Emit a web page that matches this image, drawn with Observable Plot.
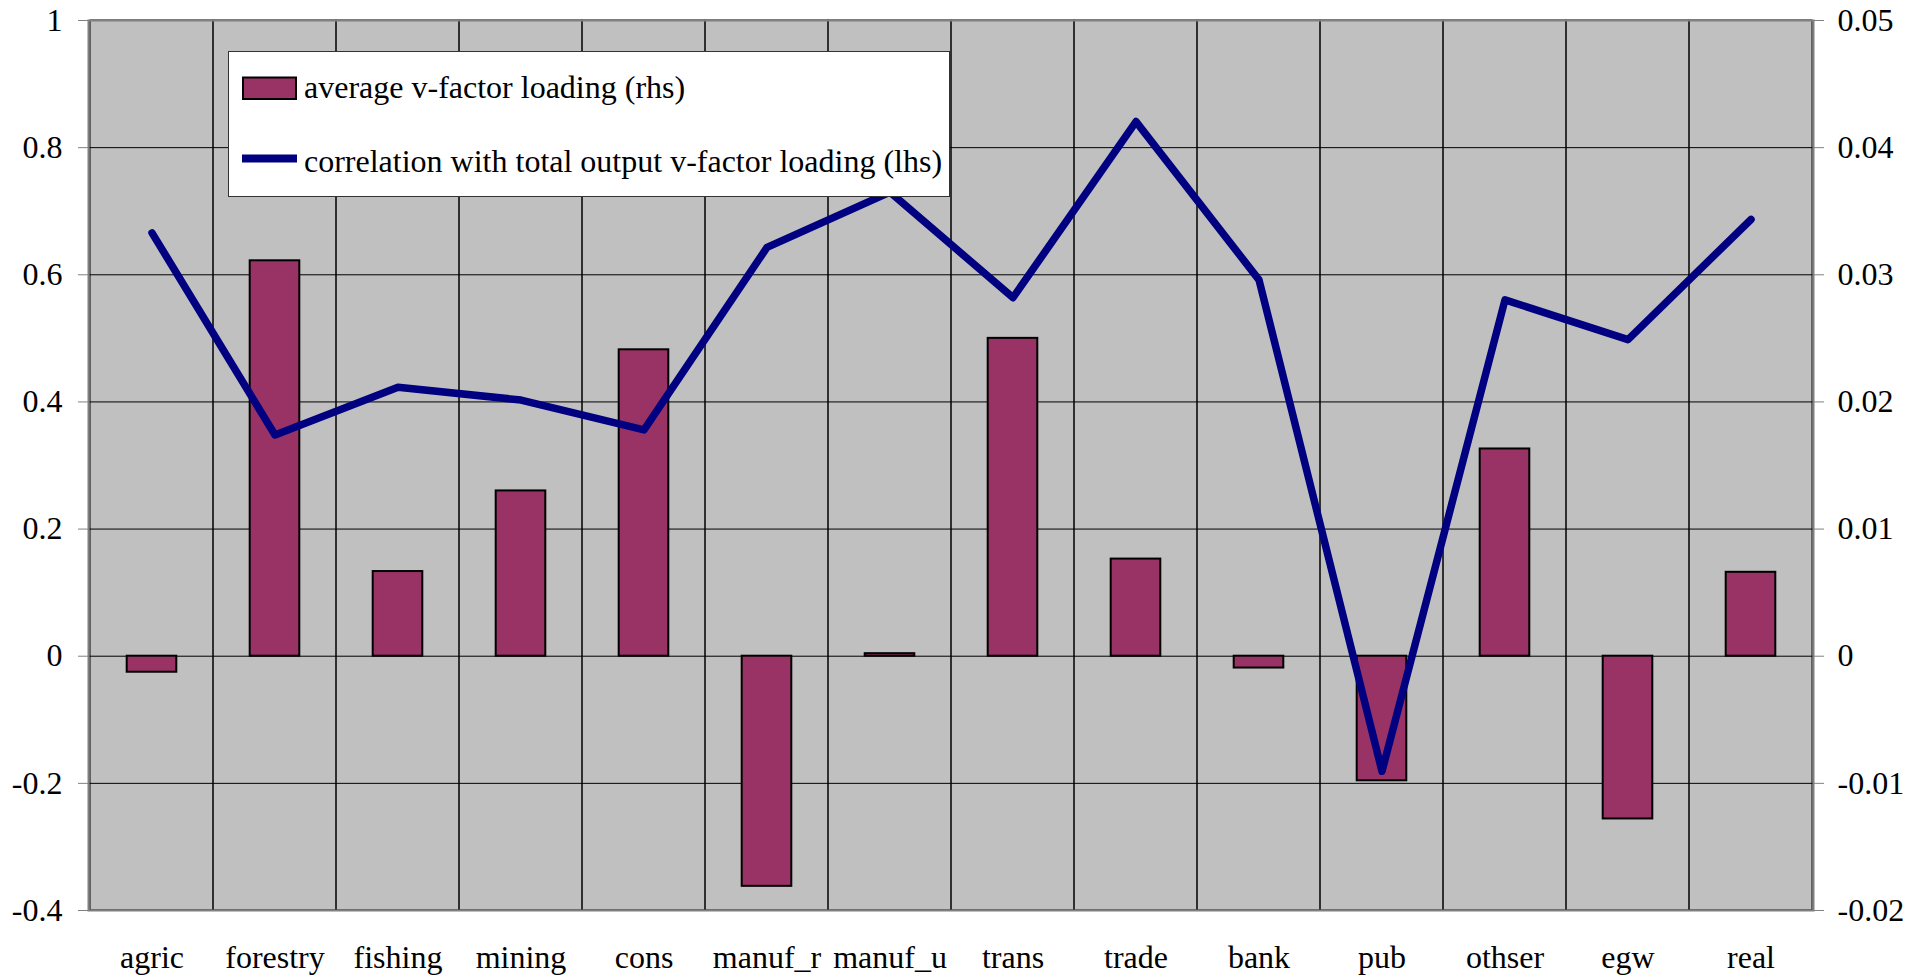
<!DOCTYPE html>
<html>
<head>
<meta charset="utf-8">
<script src="https://cdn.jsdelivr.net/npm/d3@7"></script>
<script src="https://cdn.jsdelivr.net/npm/@observablehq/plot@0.6"></script>
<style>
  html, body { margin: 0; padding: 0; background: white; }
  #chart { position: relative; width: 1924px; height: 977px; }
  #chart svg, #chart svg text { font-family: "Liberation Serif", "Times New Roman", serif !important; }
</style>
</head>
<body>
<div id="chart"></div>
<script>
const categories = ["agric","forestry","fishing","mining","cons","manuf_r","manuf_u","trans","trade","bank","pub","othser","egw","real"];
// average v-factor loading (rhs)
const avgLoading = [-0.00126, 0.0311, 0.00666, 0.0130, 0.0241, -0.0181, 0.0002, 0.0250, 0.00764, -0.00093, -0.0098, 0.0163, -0.0128, 0.0066];
// correlation with total output v-factor loading (lhs)
const correlation = [0.666, 0.348, 0.423, 0.403, 0.356, 0.643, 0.73, 0.564, 0.841, 0.592, -0.181, 0.5605, 0.498, 0.687];
const leftTicks = [-0.4, -0.2, 0, 0.2, 0.4, 0.6, 0.8, 1];
const rhsFactor = 20; // lhs range 1.4 <-> rhs range 0.07
const legendLabels = ["average v-factor loading (rhs)", "correlation with total output v-factor loading (lhs)"];

const data = categories.map((c, i) => ({cat: c, bar: avgLoading[i], corr: correlation[i]}));

const chart = Plot.plot({
  width: 1924,
  height: 977,
  marginLeft: 88,
  marginRight: 111,
  marginTop: 20,
  marginBottom: 67,
  style: {fontFamily: "'Liberation Serif', 'Times New Roman', serif", fontSize: "32px", background: "white", color: "black"},
  x: {type: "band", domain: categories, padding: 0, label: null},
  y: {domain: [-0.4, 1], label: null},
  marks: [
    Plot.frame({fill: "#c0c0c0"}),
    Plot.barY(categories, {x: d => d, y1: () => -0.4, y2: () => 1, fill: "none", stroke: "black", strokeWidth: 1}),
    Plot.ruleY(leftTicks, {stroke: "black", strokeWidth: 1}),
    Plot.barY(data, {x: "cat", y: d => d.bar * rhsFactor, fill: "#993366", stroke: "black", strokeWidth: 2, insetLeft: 36.7, insetRight: 36.7}),
    Plot.lineY(data, {x: "cat", y: "corr", stroke: "#000080", strokeWidth: 7.5}),
    Plot.frame({stroke: "#808080", strokeWidth: 2}),
    Plot.axisY(leftTicks, {anchor: "left", tickSize: 10, tickPadding: 16, stroke: "#808080", fill: "black", label: null, tickFormat: d => String(+d.toFixed(1))}),
    Plot.axisY(leftTicks, {anchor: "right", tickSize: 10, tickPadding: 14, stroke: "#808080", fill: "black", label: null, tickFormat: d => String(+(d / rhsFactor).toFixed(2))}),
    Plot.axisX({tickSize: 0, tickPadding: 35, label: null, fill: "black"})
  ]
});

document.getElementById("chart").appendChild(chart);

// Legend box inside the plot area
const svg = d3.select(chart);
const lg = svg.append("g")
  .attr("font-family", "'Liberation Serif', 'Times New Roman', serif")
  .attr("font-size", 32)
  .attr("text-anchor", "start");
lg.append("rect").attr("x", 228.5).attr("y", 51.5).attr("width", 721).attr("height", 145)
  .attr("fill", "white").attr("stroke", "#333").attr("stroke-width", 1);
lg.append("rect").attr("x", 243).attr("y", 77.5).attr("width", 53).attr("height", 21.5)
  .attr("fill", "#993366").attr("stroke", "black").attr("stroke-width", 2);
lg.append("line").attr("x1", 242).attr("x2", 297).attr("y1", 158.5).attr("y2", 158.5)
  .attr("stroke", "#000080").attr("stroke-width", 8);
lg.append("text").attr("x", 304).attr("y", 98).attr("fill", "black").attr("text-anchor", "start").text(legendLabels[0]);
lg.append("text").attr("x", 304).attr("y", 171.5).attr("fill", "black").attr("text-anchor", "start").text(legendLabels[1]);
</script>
</body>
</html>
